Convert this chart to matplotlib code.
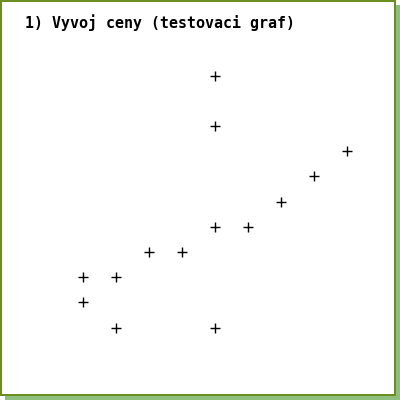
import matplotlib
matplotlib.use("Agg")
import matplotlib.pyplot as plt
from matplotlib.patches import Rectangle

title = "1) Vyvoj ceny (testovaci graf)"
# x: time step, y: price level
xs = [4, 4, 8, 7, 6, 4, 5, 2, 3, 0, 1, 0, 1, 4]
ys = [10, 8, 7, 6, 5, 4, 4, 3, 3, 2, 2, 1, 0, 0]

fig = plt.figure(figsize=(4, 4), dpi=100)
fig.patch.set_facecolor("white")

# shadow + frame
fig.patches.append(Rectangle((5 / 400, 0), 395 / 400, 395 / 400,
                             transform=fig.transFigure, facecolor="#8fbf7f",
                             edgecolor="none", zorder=0))
fig.patches.append(Rectangle((0, 4 / 400), 396 / 400, 396 / 400,
                             transform=fig.transFigure, facecolor="#6b8e23",
                             edgecolor="none", zorder=1))
fig.patches.append(Rectangle((2 / 400, 6 / 400), 392 / 400, 392 / 400,
                             transform=fig.transFigure, facecolor="white",
                             edgecolor="none", zorder=2))

ax = fig.add_axes([0, 0, 1, 1])
ax.set_facecolor("none")
ax.set_zorder(3)
ax.scatter(xs, ys, marker="+", s=60, color="black", linewidths=1)
ax.set_xlim(-82.5 / 33, (400 - 82.5) / 33)
ax.set_ylim(-72.5 / 25.2, (400 - 72.5) / 25.2)
ax.axis("off")

fig.text(25 / 400, 1 - 28 / 400, title, family="DejaVu Sans Mono",
         fontsize=10.8, fontweight="bold", va="baseline", ha="left", zorder=4)

fig.savefig("out.png", dpi=100)
